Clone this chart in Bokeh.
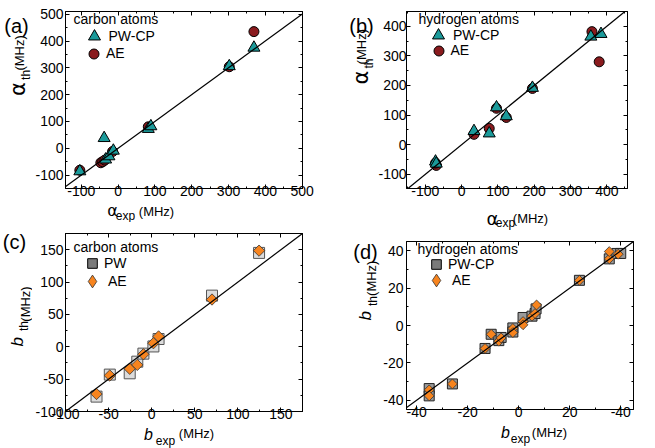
import math
from bokeh.plotting import figure
from bokeh.models import (Range1d, FixedTicker, LinearAxis, Label, Legend,
                          LegendItem, Slope, CustomLabelingPolicy)
from bokeh.core.properties import value
from bokeh.layouts import row, column
from bokeh.embed import file_html
from bokeh.resources import INLINE

# ---------------- data (MHz) ----------------
# (a) carbon atoms, isotropic a: experiment vs theory
ca_exp_pw = [-104, -38, -34, -25, -13, 82, 89, 302, 369]
ca_th_pw = [-86, 38, -42, -30, -9, 72, 82, 306, 375]
ca_exp_ae = [-104, -47, -42, -36, -15, 82, 302, 369]
ca_th_ae = [-82, -54, -50, -44, -12, 80, 304, 435]
# (b) hydrogen atoms, isotropic a
ha_exp_pw = [-72, -70, 34, 76, 96, 123, 195, 356, 384]
ha_th_pw = [-57, -64, 46, 38, 126, 96, 192, 365, 374]
ha_exp_ae = [-70, -72, 34, 76, 96, 123, 195, 359, 379]
ha_th_ae = [-70, -62, 35, 55, 123, 92, 190, 382, 280]
# (c) carbon atoms, anisotropic b
cb_exp = [-64, -48.6, -25.5, -16.7, -9.6, 2, 8, 70, 124.6]
cb_th_pw = [-77, -43, -41, -23, -10.6, 0.5, 12, 79, 145]
cb_th_ae = [-73, -44.4, -34, -28, -11.6, 5.5, 16, 73, 148.5]
# (d) hydrogen atoms, anisotropic b
hb_exp_pw = [-35.1, -35.1, -26, -13.2, -10.8, -7.8, -6.9, -2.3, -2.3, 1.7, 5.2, 6.4, 6.8, 23.8, 35.5, 38.5, 40]
hb_th_pw = [-33.8, -37.7, -31.3, -12.3, -4.7, -8.1, -6.4, -1.3, -3.5, 4.3, 5, 6.4, 8.9, 24.2, 35.7, 38.6, 38.6]
hb_exp_ae = [-35.1, -35.1, -26, -13.2, -10.8, -7.8, -6.9, -2.3, -2.3, 1.7, 1.7, 5.2, 6.4, 7, 23.8, 35.5, 35.5, 39]
hb_th_ae = [-34.5, -37.7, -31.3, -12.3, -4.7, -8.4, -6.7, -1.6, -3.8, 2.1, 0.4, 5, 6.4, 11, 24.2, 35.7, 39.6, 38.2]

# ticks and tick labels
a_ticks = [-100, 0, 100, 200, 300, 400, 500]
a_labels = ["-100", "0", "100", "200", "300", "400", "500"]
a_minor = [-150, -50, 50, 150, 250, 350, 450]
b_ticks = [-100, 0, 100, 200, 300, 400]
b_labels = ["-100", "0", "100", "200", "300", "400"]
b_minor = [-150, -50, 50, 150, 250, 350, 450]
c_ticks = [-100, -50, 0, 50, 100, 150]
c_labels = ["-100", "-50", "0", "50", "100", "150"]
c_minor = [-75, -25, 25, 75, 125, 175]
d_ticks = [-40, -20, 0, 20, 40]
d_xlabels = ["-40", "-20", "0", "20", "-40"]
d_ylabels = ["-40", "-20", "0", "20", "40"]
d_minor = [-30, -10, 10, 30]

FONT = "Liberation Sans"
SYM = "DejaVu Sans"
TEAL = "#1b9a9a"
DRED = "#8a1b1e"
ORANGE = "#f7841e"
HALF = math.pi / 4
UP = math.pi / 2


def make_fig(w, h, bl, br, bt, bb, xr, yr, ticks, minor, xlabels, ylabels, ystand, xstand):
    p = figure(width=w, height=h, output_backend="svg", toolbar_location=None,
               x_range=Range1d(*xr), y_range=Range1d(*yr),
               min_border_left=bl, min_border_right=br,
               min_border_top=bt, min_border_bottom=bb,
               background_fill_color="white", border_fill_color="white")
    p.grid.visible = False
    p.outline_line_color = "black"
    p.outline_line_alpha = 1.0
    p.outline_line_width = 1

    def style(ax, labels, standoff):
        ax.ticker = FixedTicker(ticks=ticks, minor_ticks=minor)
        ax.axis_line_color = "black"
        ax.major_tick_line_color = "black"
        ax.minor_tick_line_color = "black"
        ax.major_tick_in = 4
        ax.major_tick_out = 0
        ax.minor_tick_in = 2
        ax.minor_tick_out = 0
        if labels is None:
            ax.major_label_policy = CustomLabelingPolicy(code="return new Set()")
            ax.major_label_standoff = 0
        else:
            ax.major_label_overrides = {t: s for t, s in zip(ticks, labels)}
            ax.major_label_text_font = FONT
            ax.major_label_text_font_size = "14px"
            ax.major_label_text_color = "black"
            ax.major_label_standoff = standoff

    style(p.xaxis[0], xlabels, xstand)
    style(p.yaxis[0], ylabels, ystand)
    for loc in ("above", "right"):
        ax = LinearAxis()
        style(ax, None, 0)
        p.add_layout(ax, loc)
    p.add_layout(Slope(gradient=1, y_intercept=0, line_color="black", line_width=1.2))
    return p


def txt(p, x, y, text, size, align="left"):
    p.add_layout(Label(x=x, y=y, x_units="screen", y_units="screen", text=text,
                       text_font=FONT, text_font_size=f"{size}px",
                       text_align=align, text_baseline="middle", text_color="black"))


def label_fig(x0, y0, x1, y1, items):
    """A blank canvas whose data coordinates are page pixels; holds axis texts."""
    f = figure(width=x1 - x0, height=y1 - y0, output_backend="svg", toolbar_location=None,
               x_axis_type=None, y_axis_type=None, title=None,
               min_border_left=0, min_border_right=0, min_border_top=0, min_border_bottom=0,
               x_range=Range1d(x0, x1), y_range=Range1d(y1, y0),
               background_fill_color="white", border_fill_color="white")
    f.outline_line_color = None
    for (px, py, text, size, font, style, angle) in items:
        f.text(x=[px], y=[py], text=[text], angle=angle,
               text_font=value(font), text_font_size=value(f"{size}px"),
               text_font_style=value(style), text_align=value("center"),
               text_baseline=value("middle"), text_color="black")
    return f


def leg(p, r, text, cx, cy, px, tdx):
    G = int(round(px / 0.4))
    lg = Legend(items=[LegendItem(label=text, renderers=[r])],
                location=(cx - G / 2, cy - G / 2),
                glyph_width=G, glyph_height=G, label_height=10,
                label_standoff=int(round(tdx - G / 2)),
                padding=0, margin=0, spacing=0,
                background_fill_alpha=0, border_line_alpha=0,
                inactive_fill_alpha=0,
                label_text_font=FONT, label_text_font_size="14px",
                label_text_color="black")
    p.add_layout(lg)


N = "normal"
I = "italic"

# ---------------- (a) ----------------
pa = make_fig(298, 201, 30, 15, 7, 13, (-143, 501), (-150, 510),
              a_ticks, a_minor, a_labels, a_labels, 2, -3)
ra_ae = pa.scatter(ca_exp_ae, ca_th_ae, marker="circle", size=10, fill_color=DRED,
                   line_color="black", line_width=1)
ra_pw = pa.scatter(ca_exp_pw, ca_th_pw, marker="triangle", size=12, fill_color=TEAL,
                   line_color="black", line_width=1)
txt(pa, 8, 169.5, "carbon atoms", 14)
leg(pa, ra_pw, "PW-CP", 28.5, 152, 12, 9)
leg(pa, ra_ae, "AE", 28.5, 135, 10, 9)
ya = label_fig(0, 0, 32, 201, [
    (16, 17, "(a)", 20, FONT, N, 0.0),
    (17, 88, "α", 21, SYM, N, UP),
    (25, 72, "th", 12, FONT, N, UP),
    (19, 47, "(MHz)", 13, FONT, N, UP),
])
xa = label_fig(0, 201, 330, 222, [
    (112, 210.3, "α", 16, SYM, N, 0.0),
    (125, 215.3, "exp", 12, FONT, N, 0.0),
    (156, 210.5, "(MHz)", 13, FONT, N, 0.0),
])

# ---------------- (b) ----------------
pb = make_fig(280, 201, 29, 1, 7, 13, (-152, 457), (-148, 450),
              b_ticks, b_minor, b_labels, b_labels, 0, -3)
rb_ae = pb.scatter(ha_exp_ae, ha_th_ae, marker="circle", size=10, fill_color=DRED,
                   line_color="black", line_width=1)
rb_pw = pb.scatter(ha_exp_pw, ha_th_pw, marker="triangle", size=12, fill_color=TEAL,
                   line_color="black", line_width=1)
txt(pb, 12, 170, "hydrogen atoms", 14)
leg(pb, rb_pw, "PW-CP", 32, 153, 12, 9)
leg(pb, rb_ae, "AE", 32, 138, 10, 9)
yb = label_fig(330, 0, 375, 201, [
    (361, 17, "(b)", 20, FONT, N, 0.0),
    (360, 75, "α", 21, SYM, N, UP),
    (368, 59, "th", 12, FONT, N, UP),
    (361, 40, "(MHz)", 13, FONT, N, UP),
])
xb = label_fig(330, 201, 655, 230, [
    (492, 217.5, "α", 18, SYM, N, 0.0),
    (505, 222, "exp", 12, FONT, N, 0.0),
    (530, 217.5, "(MHz)", 13, FONT, N, 0.0),
])

# ---------------- (c) ----------------
pc = make_fig(298, 202, 30, 10, 9, 13, (-100, 175), (-100, 175),
              c_ticks, c_minor, c_labels, c_labels, 2, -3)
pc.scatter(cb_exp, cb_th_pw, marker="square", size=11, fill_color="#dcdcdc",
           line_color="#555555", line_width=1)
pc.scatter(cb_exp, cb_th_ae, marker="square", angle=HALF, size=8, fill_color=ORANGE,
           line_color="#333333", line_width=0.8)
rc_pw_key = pc.scatter(cb_exp, cb_th_pw, marker="square", fill_color="#7a7a7a",
                       line_color="black", line_width=1, visible=False)
rc_ae_key = pc.scatter(cb_exp, cb_th_ae, marker="diamond", fill_color=ORANGE,
                       line_color="#333333", line_width=0.8, visible=False)
txt(pc, 8, 164.5, "carbon atoms", 14)
leg(pc, rc_pw_key, "PW", 27, 148, 9.5, 11)
leg(pc, rc_ae_key, "AE", 27, 130, 13, 11)
yc = label_fig(0, 222, 32, 424, [
    (14, 232, "(c)", 20, FONT, N, 0.0),
    (17, 345, "b", 17, FONT, I, UP),
    (23.5, 327, "th", 12, FONT, N, UP),
    (24.5, 302, "(MHz)", 13, FONT, N, UP),
])
xc = label_fig(0, 424, 330, 448, [
    (148, 433.5, "b", 16, FONT, I, 0.0),
    (165, 440, "exp", 12, FONT, N, 0.0),
    (196, 433, "(MHz)", 13, FONT, N, 0.0),
])

# ---------------- (d) ----------------
pd_ = make_fig(275, 192, 25, 1, 4, 13, (-44, 45), (-45, 45),
               d_ticks, d_minor, d_xlabels, d_ylabels, 3, -3)
pd_.scatter(hb_exp_pw, hb_th_pw, marker="square", size=10, fill_color="#9a9a9a",
            line_color="#222222", line_width=1)
pd_.scatter(hb_exp_ae, hb_th_ae, marker="square", angle=HALF, size=7, fill_color=ORANGE,
            line_color="#333333", line_width=0.8)
rd_pw_key = pd_.scatter(hb_exp_pw, hb_th_pw, marker="square", fill_color="#7a7a7a",
                        line_color="black", line_width=1, visible=False)
rd_ae_key = pd_.scatter(hb_exp_ae, hb_th_ae, marker="diamond", fill_color=ORANGE,
                        line_color="#333333", line_width=0.8, visible=False)
txt(pd_, 11, 161, "hydrogen atoms", 14)
leg(pd_, rd_pw_key, "PW-CP", 30, 145, 9.5, 10)
leg(pd_, rd_ae_key, "AE", 30, 129, 13, 10)
yd = label_fig(330, 230, 380, 422, [
    (365, 242.5, "(d)", 20, FONT, N, 0.0),
    (365, 315, "b", 17, FONT, I, UP),
    (372, 298, "th", 12, FONT, N, UP),
    (371, 272, "(MHz)", 13, FONT, N, UP),
])
xd = label_fig(330, 422, 655, 448, [
    (505, 431.5, "b", 16, FONT, I, 0.0),
    (520, 438.5, "exp", 12, FONT, N, 0.0),
    (549, 431.5, "(MHz)", 13, FONT, N, 0.0),
])

col1 = column(row(ya, pa), xa, row(yc, pc), xc)
col2 = column(row(yb, pb), xb, row(yd, pd_), xd)
layout = row(col1, col2)
open("out.html", "w").write(file_html(layout, INLINE))
